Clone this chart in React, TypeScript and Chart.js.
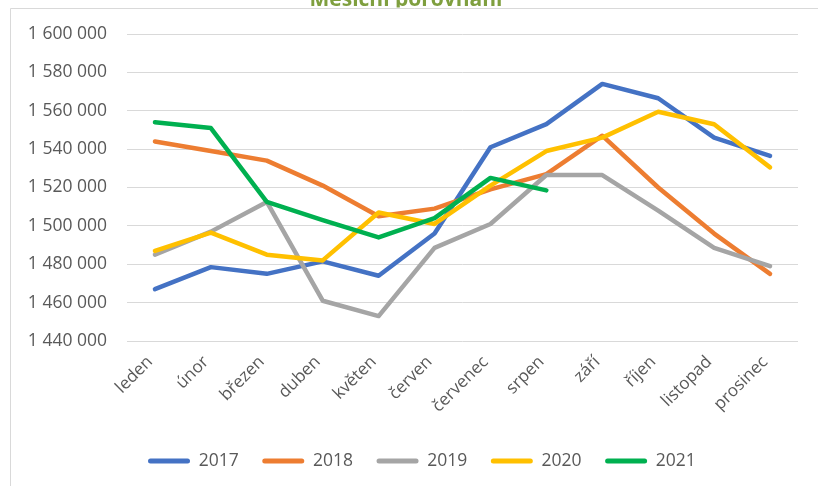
import React, { useEffect, useRef } from 'react';
import { Chart, registerables } from 'chart.js';

Chart.register(...registerables);

const titleText = 'Měsíční porovnání';
const months = ['leden', 'únor', 'březen', 'duben', 'květen', 'červen', 'červenec', 'srpen', 'září', 'říjen', 'listopad', 'prosinec'];
const years = ['2017', '2018', '2019', '2020', '2021'];
const v2017 = [1467000, 1478500, 1475000, 1481500, 1474000, 1496000, 1541000, 1553000, 1574000, 1566500, 1546000, 1536500];
const v2018 = [1544000, 1539000, 1534000, 1521000, 1505000, 1509000, 1519000, 1527000, 1547000, 1520000, 1496000, 1475000];
const v2019 = [1485000, 1497000, 1512500, 1461000, 1453000, 1488500, 1501000, 1526500, 1526500, 1508000, 1488500, 1479000];
const v2020 = [1487000, 1496500, 1485000, 1482000, 1507000, 1501000, 1521000, 1539000, 1546000, 1559500, 1553000, 1530500];
const v2021 = [1554000, 1551000, 1512500, 1503000, 1494000, 1504000, 1525000, 1518500, null, null, null, null];
const yMin = 1440000;
const yMax = 1600000;
const yStep = 20000;

const colors = ['#4472C4', '#ED7D31', '#A5A5A5', '#FFC000', '#00B050'];
const TEXT = '#595959';
const FONT = '"Open Sans", sans-serif';

const W = 818;
const H = 486;
const PLOT_BOTTOM = 341;

const fmt = (v: number) => String(v).replace(/\B(?=(\d{3})+(?!\d))/g, ' ');

const framePlugin = {
  id: 'frame',
  beforeDraw(chart: any) {
    const ctx = chart.ctx;
    ctx.save();
    ctx.fillStyle = '#ffffff';
    ctx.fillRect(0, 0, W, H);
    ctx.strokeStyle = '#d9d9d9';
    ctx.lineWidth = 1;
    ctx.beginPath();
    ctx.moveTo(10.5, H);
    ctx.lineTo(10.5, 8.5);
    ctx.lineTo(W, 8.5);
    ctx.stroke();
    ctx.restore();
  },
  afterDraw(chart: any) {
    const ctx = chart.ctx;
    ctx.save();
    ctx.beginPath();
    ctx.rect(0, 0, W, 7.5);
    ctx.clip();
    ctx.font = 'bold 20px "Open Sans", sans-serif';
    const w = ctx.measureText(titleText).width;
    const size = (20 * 193) / w;
    ctx.font = `bold ${size}px "Open Sans", sans-serif`;
    ctx.fillStyle = '#7F9F3F';
    ctx.textAlign = 'center';
    ctx.textBaseline = 'alphabetic';
    ctx.fillText(titleText, 406, 5.5);
    ctx.restore();
  },
};

const LEG_PAD = 23.5;
const LEG_FS = 17.5;

const legendPlace = {
  id: 'legendPlace',
  afterLayout(chart: any) {
    const lg = chart.legend;
    if (!lg) return;
    const h = lg.height;
    lg.left = 148 - LEG_PAD;
    lg.right = W;
    lg.width = lg.right - lg.left;
    lg.top = 461 - LEG_PAD - LEG_FS / 2;
    lg.bottom = lg.top + h;
  },
};

export default function App() {
  const ref = useRef<HTMLCanvasElement>(null);

  useEffect(() => {
    const series = [v2017, v2018, v2019, v2020, v2021];
    const chart = new Chart(ref.current as HTMLCanvasElement, {
      type: 'line',
      data: {
        labels: months,
        datasets: years.map((y, i) => ({
          label: y,
          data: series[i],
          borderColor: colors[i],
          backgroundColor: colors[i],
          borderWidth: 4.5,
          pointRadius: 0,
          pointHoverRadius: 0,
          tension: 0,
          fill: false,
          spanGaps: false,
          borderCapStyle: 'round',
          borderJoinStyle: 'round',
          order: years.length - i,
        })),
      },
      options: {
        animation: false,
        responsive: false,
        devicePixelRatio: 1,
        layout: { padding: { top: 34, right: 20, left: 0, bottom: 0 } },
        scales: {
          x: {
            type: 'category',
            offset: true,
            grid: { display: false, drawTicks: false },
            border: { display: false },
            ticks: {
              autoSkip: false,
              minRotation: 45,
              maxRotation: 45,
              padding: 11,
              labelOffset: -5,
              color: TEXT,
              font: { family: FONT, size: 17 },
            },
            afterFit: (s: any) => {
              const lh = s.chart.legend ? s.chart.legend.height : 0;
              s.height = H - PLOT_BOTTOM - lh;
            },
          },
          y: {
            min: yMin,
            max: yMax,
            ticks: {
              stepSize: yStep,
              padding: 20,
              color: TEXT,
              font: { family: FONT, size: 17.5 },
              callback: (v: any) => fmt(Number(v)),
            },
            grid: { color: '#d9d9d9', lineWidth: 1, drawTicks: false },
            border: { display: false },
            afterFit: (s: any) => {
              s.width = 127;
            },
          },
        },
        plugins: {
          title: { display: false },
          tooltip: { enabled: false },
          legend: {
            position: 'bottom',
            align: 'start',
            labels: {
              boxWidth: 42,
              boxHeight: 5,
              padding: LEG_PAD,
              color: TEXT,
              font: { family: FONT, size: LEG_FS },
              generateLabels: (c: any) =>
                c.data.datasets.map((ds: any, i: number) => ({
                  text: ds.label,
                  fillStyle: colors[i],
                  strokeStyle: colors[i],
                  lineWidth: 0,
                  hidden: false,
                  datasetIndex: i,
                  borderRadius: 2.5,
                  fontColor: TEXT,
                })),
            },
          },
        },
      },
      plugins: [framePlugin, legendPlace],
    } as any);
    return () => chart.destroy();
  }, []);

  return (
    <div style={{ position: 'fixed', left: 0, top: 0, width: W, height: H, background: '#fff' }}>
      <canvas ref={ref} width={W} height={H} style={{ display: 'block', width: W, height: H }} />
    </div>
  );
}
